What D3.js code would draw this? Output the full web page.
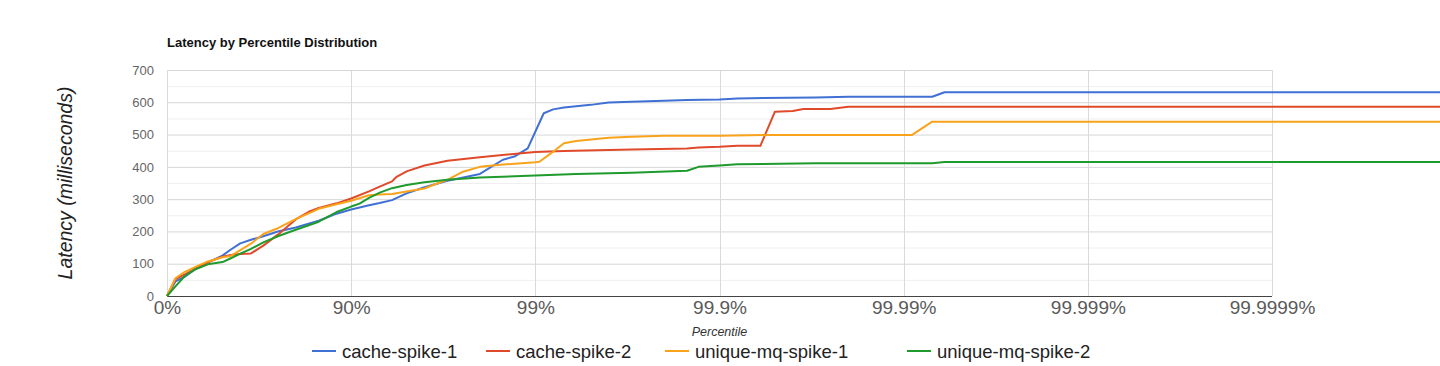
<!DOCTYPE html>
<html>
<head>
<meta charset="utf-8">
<script src="https://cdn.jsdelivr.net/npm/d3@7"></script>
<style>
  html, body { margin: 0; padding: 0; background: #fff; overflow: hidden; }
  svg { display: block; font-family: "Liberation Sans", Arial, sans-serif; }
</style>
</head>
<body>
<svg id="chart" width="1440" height="366"></svg>
<script>
const chartTitle = "Latency by Percentile Distribution";
const yAxisTitle = "Latency (milliseconds)";
const xAxisTitle = "Percentile";

const seriesNames = ["cache-spike-1", "cache-spike-2", "unique-mq-spike-1", "unique-mq-spike-2"];
const seriesColors = ["#4070d4", "#e0492a", "#f9a31b", "#1f9a2c"];

// [percentile, latency ms]
const cacheSpike1 = [
  [0, 0], [10, 45], [20, 60], [30, 84], [40, 104], [50, 125], [55, 144], [60, 163], [65, 174],
  [70, 185], [75, 200], [80, 212], [85, 233], [88, 255], [90, 268], [92, 281], [93, 288],
  [94, 297], [95, 318], [96, 337], [97, 357], [97.5, 366], [98, 378], [98.5, 422], [98.7, 432],
  [98.9, 457], [99.1, 566], [99.2, 578], [99.3, 584], [99.5, 592], [99.6, 599], [99.7, 602],
  [99.8, 605], [99.85, 607], [99.9, 609], [99.92, 612], [99.97, 615], [99.98, 617],
  [99.993, 617], [99.994, 631], [99.99999, 631]
];
const cacheSpike2 = [
  [0, 0], [10, 52], [20, 67], [30, 85], [40, 104], [50, 122], [55, 127], [60, 130], [65, 132],
  [70, 156], [75, 190], [80, 237], [83, 261], [85, 273], [88, 287], [90, 302], [92, 324],
  [93, 339], [94, 355], [94.3, 368], [95, 386], [96, 404], [97, 419], [98, 430], [99, 446],
  [99.3, 449], [99.7, 454], [99.85, 457], [99.87, 460], [99.9, 462], [99.92, 465], [99.94, 465],
  [99.95, 571], [99.96, 573], [99.965, 579], [99.975, 579], [99.98, 586], [99.99999, 586]
];
const uniqueMqSpike1 = [
  [0, 0], [10, 55], [20, 75], [30, 90], [40, 107], [50, 120], [55, 124], [60, 142], [65, 162],
  [70, 192], [75, 210], [80, 238], [85, 270], [88, 284], [90, 295], [92, 312], [93, 314],
  [94, 316], [95, 324], [96, 333], [96.5, 346], [97, 360], [97.5, 384], [98, 400], [98.5, 407],
  [99, 414], [99.05, 416], [99.2, 447], [99.3, 473], [99.4, 480], [99.6, 490], [99.7, 493],
  [99.8, 496], [99.9, 496], [99.95, 499], [99.991, 499], [99.993, 540], [99.99999, 540]
];
const uniqueMqSpike2 = [
  [0, 0], [10, 30], [20, 62], [30, 83], [40, 98], [50, 105], [55, 117], [60, 131], [65, 146],
  [70, 166], [75, 185], [80, 205], [83, 219], [85, 230], [88, 260], [90, 277], [91, 286],
  [92, 304], [93, 320], [94, 334], [95, 344], [96, 352], [97, 360], [98, 367], [99, 373],
  [99.4, 378], [99.7, 382], [99.85, 388], [99.87, 400], [99.9, 404], [99.92, 408], [99.97, 411],
  [99.993, 411], [99.994, 415], [99.99999, 415]
];
const seriesData = [cacheSpike1, cacheSpike2, uniqueMqSpike1, uniqueMqSpike2];

const xTickPercentiles = [0, 90, 99, 99.9, 99.99, 99.999, 99.9999];
const xTickLabels = ["0%", "90%", "99%", "99.9%", "99.99%", "99.999%", "99.9999%"];
const yTicks = [0, 100, 200, 300, 400, 500, 600, 700];
const yMinorTicks = [50, 150, 250, 350, 450, 550, 650];

(function () {
  const svg = d3.select("#chart");

  const plot = { left: 167, right: 1272, top: 70, bottom: 296 };

  // x is log of 1/(1-p): each "nine" gets the same width
  const x = d3.scaleLog().domain([1, 1e6]).range([plot.left, plot.right]);
  const xp = p => x(1 / (1 - p / 100));
  const y = d3.scaleLinear().domain([0, 700]).range([plot.bottom, plot.top]);

  // gridlines
  const grid = svg.append("g").attr("class", "grid");
  grid.selectAll("line.minor")
    .data(yMinorTicks)
    .enter().append("line")
    .attr("class", "minor")
    .attr("x1", plot.left).attr("x2", plot.right)
    .attr("y1", d => y(d) + 0.5).attr("y2", d => y(d) + 0.5)
    .attr("stroke", "#efefef");
  grid.selectAll("line.major")
    .data(yTicks.filter(d => d > 0))
    .enter().append("line")
    .attr("class", "major")
    .attr("x1", plot.left).attr("x2", plot.right)
    .attr("y1", d => y(d) + 0.5).attr("y2", d => y(d) + 0.5)
    .attr("stroke", "#d6d6d6");
  grid.selectAll("line.vert")
    .data(xTickPercentiles)
    .enter().append("line")
    .attr("class", "vert")
    .attr("x1", d => Math.round(xp(d)) + 0.5).attr("x2", d => Math.round(xp(d)) + 0.5)
    .attr("y1", plot.top).attr("y2", plot.bottom)
    .attr("stroke", "#dadada");

  // y axis labels
  const yAxis = svg.append("g")
    .attr("transform", `translate(${plot.left - 13},0)`)
    .call(d3.axisLeft(y).tickValues(yTicks).tickSize(0).tickPadding(0));
  yAxis.select(".domain").remove();
  yAxis.selectAll("text")
    .attr("font-family", "Liberation Sans, Arial, sans-serif")
    .attr("font-size", 13)
    .attr("fill", "#666");

  // x axis labels
  const xAxis = svg.append("g")
    .attr("transform", `translate(0,${plot.bottom})`)
    .call(d3.axisBottom(x)
      .tickValues(xTickPercentiles.map(p => 1 / (1 - p / 100)))
      .tickFormat((d, i) => xTickLabels[i])
      .tickSize(0)
      .tickPadding(5));
  xAxis.select(".domain").remove();
  xAxis.selectAll("text")
    .attr("font-family", "Liberation Sans, Arial, sans-serif")
    .attr("font-size", 19)
    .attr("fill", "#5a5a5a");

  // baseline
  svg.append("line")
    .attr("x1", plot.left).attr("x2", plot.right)
    .attr("y1", plot.bottom + 0.5).attr("y2", plot.bottom + 0.5)
    .attr("stroke", "#444");

  // series lines (run on past the last tick, like the original)
  const line = d3.line()
    .x(d => xp(d[0]))
    .y(d => y(d[1]));

  svg.append("g").attr("class", "series")
    .selectAll("path")
    .data(seriesData)
    .enter().append("path")
    .attr("d", line)
    .attr("fill", "none")
    .attr("stroke", (d, i) => seriesColors[i])
    .attr("stroke-width", 2)
    .attr("stroke-linejoin", "round");

  // titles
  svg.append("text")
    .attr("x", plot.left).attr("y", 47)
    .attr("font-size", 13).attr("font-weight", "bold")
    .attr("fill", "#111")
    .text(chartTitle);

  svg.append("text")
    .attr("transform", `translate(72,${(plot.top + plot.bottom) / 2}) rotate(-90)`)
    .attr("text-anchor", "middle")
    .attr("font-size", 19.5).attr("font-style", "italic")
    .attr("fill", "#222")
    .text(yAxisTitle);

  svg.append("text")
    .attr("x", (plot.left + plot.right) / 2).attr("y", 336)
    .attr("text-anchor", "middle")
    .attr("font-size", 12.5).attr("font-style", "italic")
    .attr("fill", "#333")
    .text(xAxisTitle);

  // legend
  const legendX = [312, 486, 665, 907];
  const legend = svg.append("g").attr("class", "legend")
    .selectAll("g")
    .data(seriesNames)
    .enter().append("g")
    .attr("transform", (d, i) => `translate(${legendX[i]},351)`);
  legend.append("line")
    .attr("x1", 0).attr("x2", 24)
    .attr("stroke", (d, i) => seriesColors[i])
    .attr("stroke-width", 2);
  legend.append("text")
    .attr("x", 30).attr("y", 6.5)
    .attr("font-size", 18.5)
    .attr("fill", "#222")
    .text(d => d);
})();
</script>
</body>
</html>
